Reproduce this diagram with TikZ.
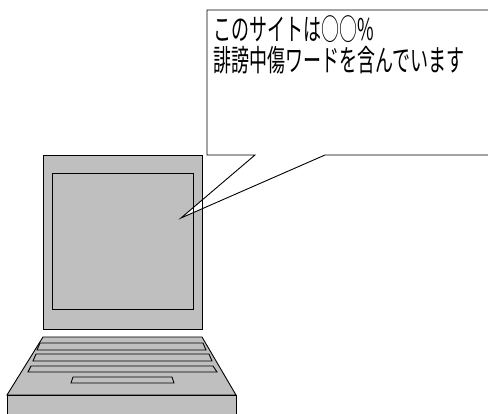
\documentclass[tikz,border=0pt]{standalone}
\usepackage{fontspec}
\newfontfamily\jpfont[FakeStretch=0.6]{Noto Sans CJK JP}
\definecolor{pcgray}{gray}{0.75}

\begin{document}
\begin{tikzpicture}[x=1pt, y=-1pt, line width=0.9pt]
%\draw [help lines, step=10](0,0) grid (488,414);
\useasboundingbox (0,0) rectangle (488,414);
\clip (0,0) rectangle (488,414);
\tikzset{msgtext/.style={anchor=base west, inner sep=0, font=\jpfont\fontsize{30}{31}\selectfont}}

% lid and base, fills first
\fill [pcgray] (43,155) rectangle (202,329);
\fill [pcgray] (43,337) -- (202,337) -- (236,395) -- (7,395) -- cycle;
\fill [pcgray] (7,395) rectangle (236,420);

% speech bubble
\fill [white] (500,10) -- (207,10) -- (207,155) -- (255,155) -- (181,218) -- (325,155) -- (500,155) -- cycle;

% lid
\draw (43,155) rectangle (202,329);
\draw (52,173) rectangle (193,309);

% base
\draw (43,337) -- (202,337) -- (236,395) -- (7,395) -- cycle;
\draw (7,395) rectangle (236,420);
\draw (40,343) -- (203,343) -- (206,350) -- (37,350) -- cycle;
\draw (36,354) -- (209,354) -- (212,361) -- (33,361) -- cycle;
\draw (31,366) -- (213,366) -- (217,372) -- (28,372) -- cycle;
\draw (73,377) -- (172,377) -- (174,383) -- (71,383) -- cycle;

\draw (500,10) -- (207,10) -- (207,155) -- (255,155) -- (181,218) -- (325,155) -- (500,155);
\node [msgtext] (msg1) at (213,40.5) {このサイトは○○\%};
\node [msgtext] (msg2) at (213,71.5) {誹謗中傷ワードを含んでいます};

\end{tikzpicture}
\end{document}
